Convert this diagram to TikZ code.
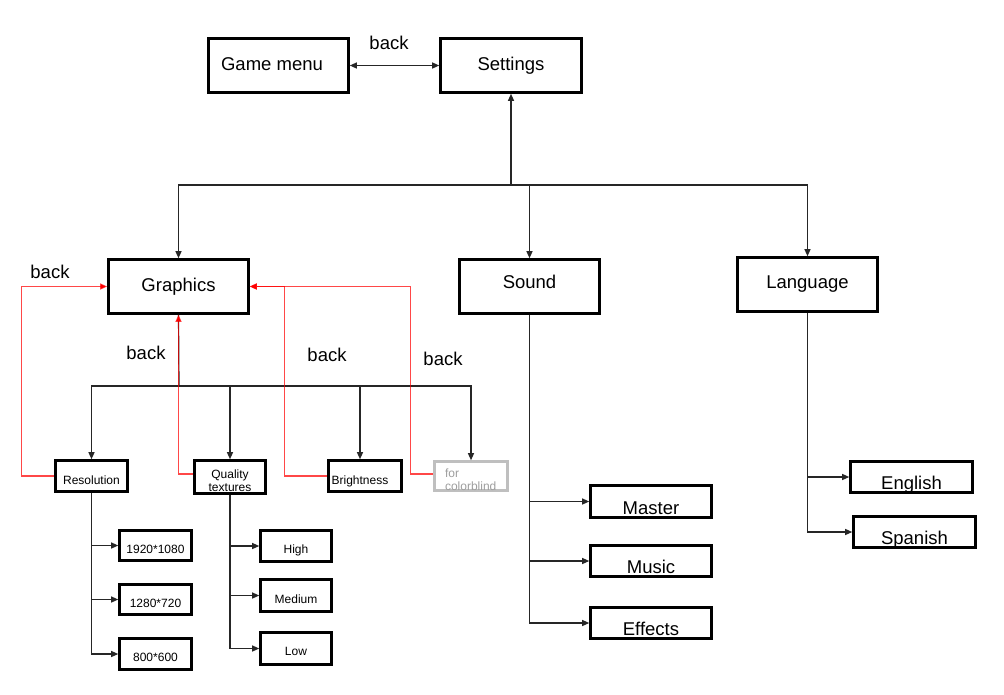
\documentclass[tikz,border=0pt]{standalone}
\usepackage{fontspec}
\setmainfont{Liberation Sans}
\usetikzlibrary{arrows.meta}
\newcommand{\bigtxt}{\fontsize{18.5}{22}\selectfont}
\newcommand{\smtxt}{\fontsize{12}{13}\selectfont}
\tikzset{
  bx/.style={draw=black, line width=2.6pt, inner sep=0pt, font=\bigtxt},
  sbx/.style={draw=black, line width=2.6pt, inner sep=0pt, font=\smtxt},
  conn/.style={draw=black!85, line width=1.2pt, -{Triangle[length=7pt,width=6pt]}},
  plain/.style={draw=black!85, line width=1.2pt},
  redback/.style={draw=red, draw opacity=0.72, line width=1.2pt, -{Triangle[length=7pt,width=6pt]}},
  lbl/.style={font=\bigtxt, anchor=base, inner sep=0pt},
}
\begin{document}
\begin{tikzpicture}[x=1pt,y=-1pt]
\useasboundingbox[fill=white] (0,0) rectangle (1004,694);

% main boxes
\node[bx, minimum width=140pt, minimum height=54pt, text height=13pt, text depth=4pt] (gm) at (278.5,65.5) {\hspace*{-13pt}Game menu};
\node[bx, minimum width=141pt, minimum height=54pt, text height=13pt, text depth=4pt] (set) at (511,65.5) {Settings};
\node[bx, minimum width=140pt, minimum height=54pt, text height=13pt, text depth=4pt] (gr) at (178.5,286.5) {Graphics};
\node[bx, minimum width=140pt, minimum height=54pt, text height=7pt, text depth=4pt] (snd) at (529.5,286.5) {Sound};
\node[bx, minimum width=140pt, minimum height=54pt, text height=11pt, text depth=4pt] (lang) at (807.5,284.5) {Language};

% sound children
\node[bx, minimum width=121pt, minimum height=32pt, text height=26pt, text depth=0pt] (m1) at (651,501.5) {Master};
\node[bx, minimum width=121pt, minimum height=31pt, text height=25pt, text depth=0pt] (m2) at (651,561) {Music};
\node[bx, minimum width=121pt, minimum height=31pt, text height=25pt, text depth=0pt] (m3) at (651,623) {Effects};

% language children
\node[bx, minimum width=122pt, minimum height=31pt, text height=25pt, text depth=0pt] (en) at (911.5,477) {English};
\node[bx, minimum width=122pt, minimum height=31pt, text height=25pt, text depth=0pt] (sp) at (914.5,532) {Spanish};

% graphics children
\node[sbx, minimum width=72pt, minimum height=31pt, text height=16pt, text depth=0pt] (res) at (91.5,476) {Resolution};
\node[sbx, minimum width=71pt, minimum height=33pt, text height=28pt, text depth=0pt] (qt) at (230,477) {\parbox[b]{60pt}{\centering Quality\\textures}};
\node[sbx, minimum width=73pt, minimum height=31pt, text height=16pt, text depth=0pt] (br) at (365,476) {\hspace*{-10pt}Brightness};
\node[sbx, draw=black!25, text=black!38, minimum width=73pt, minimum height=29pt, text height=29pt, text depth=-3pt] (cb) at (471,476) {\parbox[b]{52pt}{for\\colorblind}};

% resolution children
\node[sbx, minimum width=72pt, minimum height=30pt, text height=15pt, text depth=0pt] (r1) at (155.5,545.5) {1920*1080};
\node[sbx, minimum width=72pt, minimum height=30pt, text height=15pt, text depth=0pt] (r2) at (155.5,599.5) {1280*720};
\node[sbx, minimum width=72pt, minimum height=31pt, text height=14pt, text depth=0pt] (r3) at (155.5,654) {800*600};

% quality children
\node[sbx, minimum width=71pt, minimum height=31pt, text height=14pt, text depth=0pt] (q1) at (296,546) {High};
\node[sbx, minimum width=71pt, minimum height=32pt, text height=15pt, text depth=0pt] (q2) at (296,595.5) {Medium};
\node[sbx, minimum width=71pt, minimum height=32pt, text height=13pt, text depth=0pt] (q3) at (296,648.5) {Low};

% top connectors
\draw[conn, {Triangle[length=7pt,width=6pt]}-{Triangle[length=7pt,width=6pt]}] (gm.east) -- (set.west);
\node[lbl] (lb0) at (389,49) {back};

\coordinate (hub) at (511,185);
\draw[conn] (hub) -- (set.south);
\draw[conn] (hub) -| (gr.north);
\draw[conn] (hub) -| (snd.north);
\draw[conn] (hub) -| (lang.north);

% sound and language branches
\draw[conn] (snd.south) |- (m1.west);
\draw[conn] (snd.south) |- (m2.west);
\draw[conn] (snd.south) |- (m3.west);
\draw[conn] (lang.south) |- (en.west);
\draw[conn] (lang.south) |- (sp.west);

% graphics branches
\coordinate (ghub) at (179,386);
\draw[plain] (gr.south) -- (ghub);
\draw[conn] (ghub) -| (res.north);
\draw[conn] (ghub) -| (qt.north);
\draw[conn] (ghub) -| ([xshift=-5pt]br.north);
\draw[conn] (ghub) -| (cb.north);

\draw[conn] (res.south) |- (r1.west);
\draw[conn] (res.south) |- (r2.west);
\draw[conn] (res.south) |- (r3.west);
\draw[conn] (qt.south) |- (q1.west);
\draw[conn] (qt.south) |- (q2.west);
\draw[conn] (qt.south) |- (q3.west);

% red back connectors
\draw[redback] (res.west) -- ++(-33,0) |- (gr.west);
\draw[redback] ([yshift=3pt]qt.west) -| (gr.south);
\draw[redback] (br.west) -- ++(-43,0) |- (gr.east);
\draw[redback] ([yshift=2pt]cb.west) -- ++(-23,0) |- (gr.east);

\node[lbl] (lb1) at (50,278) {back};
\node[lbl] (lb2) at (146,359) {back};
\node[lbl] (lb3) at (327,361) {back};
\node[lbl] (lb4) at (443,365) {back};
\end{tikzpicture}
\end{document}
